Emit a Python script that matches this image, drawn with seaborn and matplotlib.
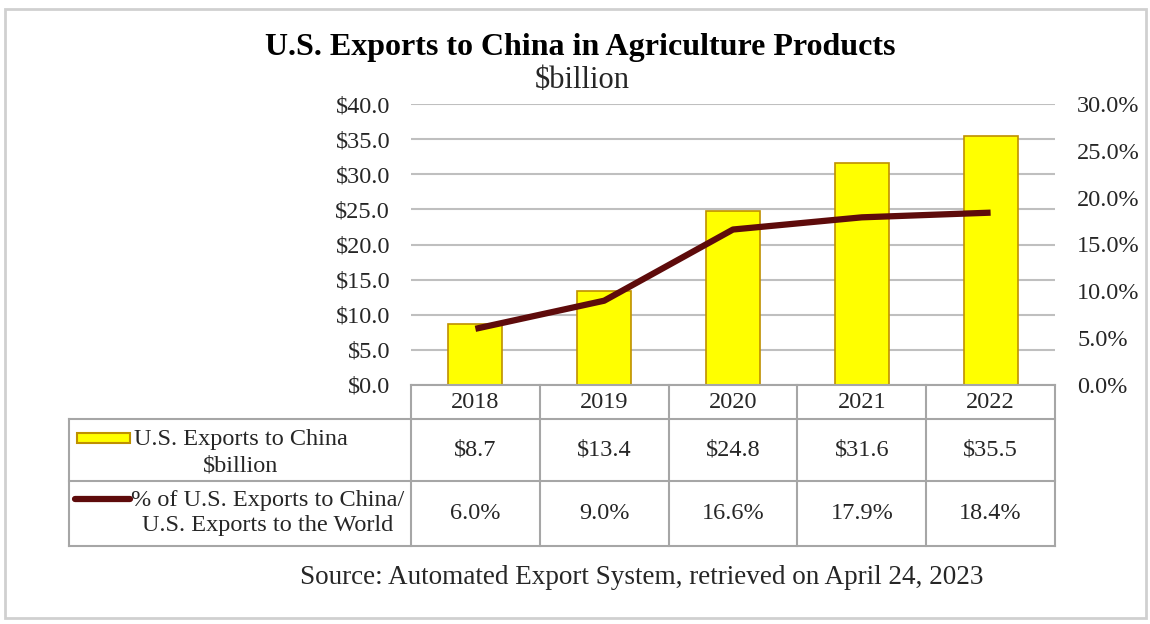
import matplotlib
matplotlib.use('Agg')
import matplotlib.pyplot as plt
import seaborn as sns
import numpy as np
import pandas as pd
from matplotlib.patches import Rectangle
from matplotlib.lines import Line2D
from matplotlib.transforms import Affine2D

# ---- data ----
years = ['2018', '2019', '2020', '2021', '2022']
exports = [8.7, 13.4, 24.8, 31.6, 35.5]          # $ billion
share = [6.0, 9.0, 16.6, 17.9, 18.4]             # % of US exports to world
title = 'U.S. Exports to China in Agriculture Products'
subtitle = '$billion'
series1_label = 'U.S. Exports to China\n$billion'
series2_label = '% of U.S. Exports to China/\nU.S. Exports to the World'
source = 'Source: Automated Export System, retrieved on April 24, 2023'

sns.set_style('white')
plt.rcParams['font.family'] = ['Liberation Serif', 'DejaVu Serif']
plt.rcParams['mathtext.default'] = 'regular'

W, H = 1150, 624
fig = plt.figure(figsize=(W / 100, H / 100), dpi=100)
fig.patch.set_facecolor('white')
pix = Affine2D().scale(1 / W, -1 / H).translate(0, 1) + fig.transFigure


def rect(x0, y0, x1, y1):
    return [x0 / W, 1 - y1 / H, (x1 - x0) / W, (y1 - y0) / H]


BAR = '#FFFF00'
BAR_EDGE = '#BF9000'
LINE = '#5E0B0B'
GRID = '#BFBFBF'
TBL = '#A6A6A6'
TXT = '#262626'
FS = 17.5

# ---- main chart ----
PL, PR, PT, PB = 411, 1055, 104, 385
ax = fig.add_axes(rect(PL, PT, PR, PB))
df = pd.DataFrame({'year': years, 'exports': exports})
sns.barplot(data=df, x='year', y='exports', color=BAR, saturation=1,
            edgecolor=BAR_EDGE, linewidth=1.2, width=0.42, ax=ax, zorder=3)
ax.set_xlim(-0.5, len(years) - 0.5)
ax.set_ylim(0, 40)
ax.set_yticks(np.arange(0, 40.1, 5))
ax.yaxis.set_major_formatter(lambda v, p: f'${v:.1f}')
ax.grid(axis='y', color=GRID, lw=1.5)
ax.set_axisbelow(True)
ax.tick_params(axis='y', length=0, labelsize=FS, pad=15, labelcolor=TXT)
ax.set_xticklabels([])
ax.tick_params(axis='x', length=0)
ax.set_xlabel('')
ax.set_ylabel('')
for s in ax.spines.values():
    s.set_visible(False)

ax2 = ax.twinx()
sns.lineplot(x=np.arange(len(years)), y=share, color=LINE, lw=4.5, ax=ax2,
             solid_capstyle='butt', solid_joinstyle='round', zorder=5)
ax2.set_ylim(0, 30)
ax2.set_yticks(np.arange(0, 30.1, 5))
ax2.yaxis.set_major_formatter(lambda v, p: f'{v:.1f}%')
ax2.tick_params(axis='y', length=0, labelsize=FS, pad=16, labelcolor=TXT)
ax2.set_ylabel('')
for s in ax2.spines.values():
    s.set_visible(False)

# ---- data table ----
TL, TT, TB = 69, PB, 546
R1, R2 = 419, 481
unit = (PR - PL) / len(years)
x_left = -0.5 - (PL - TL) / unit
tax = fig.add_axes(rect(TL, TT, PR, TB))
tax.set_xlim(x_left, len(years) - 0.5)
tax.set_ylim(TB, TT)
tax.axis('off')
kw = dict(color=TBL, lw=1.5, clip_on=False, solid_capstyle='projecting')
tax.plot([-0.5, len(years) - 0.5], [TT, TT], **kw)
for yy in (R1, R2, TB):
    tax.plot([x_left, len(years) - 0.5], [yy, yy], **kw)
tax.plot([x_left, x_left], [R1, TB], **kw)
for i in range(len(years) + 1):
    tax.plot([i - 0.5, i - 0.5], [TT, TB], **kw)
for i, (yr, e, s) in enumerate(zip(years, exports, share)):
    tax.text(i, (TT + R1) / 2 + 1, yr, ha='center', va='center', fontsize=FS, color=TXT)
    tax.text(i, (R1 + R2) / 2, f'${e:.1f}', ha='center', va='center', fontsize=FS, color=TXT)
    tax.text(i, (R2 + TB) / 2, f'{s:.1f}%', ha='center', va='center', fontsize=FS, color=TXT)

# legend keys inside table
fig.patches.append(Rectangle((77, 433), 53, 10, transform=pix, facecolor=BAR,
                             edgecolor=BAR_EDGE, lw=1.5))
fig.lines.append(Line2D([75, 130], [499, 499], transform=pix, color=LINE, lw=4.5))
fig.text(241, 453, series1_label, transform=pix, ha='center', va='center',
         fontsize=FS, linespacing=1.35, multialignment='center', color=TXT)
fig.text(268, 513, series2_label, transform=pix, ha='center', va='center',
         fontsize=FS, linespacing=1.3, multialignment='center', color=TXT)

# ---- titles ----
fig.text(580, 48, title, transform=pix, ha='center', va='center',
         fontsize=23, fontweight='bold', color='black')
fig.text(582, 81, subtitle, transform=pix, ha='center', va='center',
         fontsize=22, color=TXT)
fig.text(642, 578, source, transform=pix, ha='center', va='center',
         fontsize=19.5, color=TXT)

# outer border
fig.patches.append(Rectangle((5, 9), 1141, 609, transform=pix, facecolor='none',
                             edgecolor='#D0D0D0', lw=2))

fig.savefig('out.png', dpi=100)
